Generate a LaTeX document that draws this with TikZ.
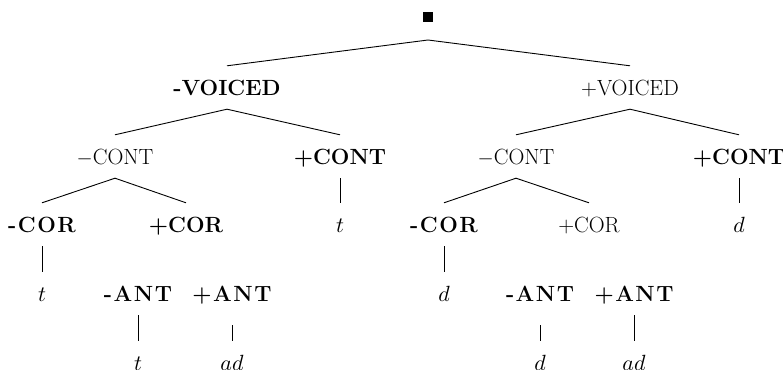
\documentclass[tikz,border=0pt]{standalone}
\usepackage{graphicx}
\newcommand{\lsp}{\kern1.5pt}
\newcommand{\lf}[1]{\scalebox{2.2}{$#1$}}
\begin{document}
\begin{tikzpicture}[x=1pt,y=-1pt,
  lab/.style={anchor=base,font=\fontsize{22}{26}\selectfont,text height=15pt,text depth=0pt,inner xsep=0pt,inner ysep=14pt},
  blab/.style={lab,font=\fontsize{22}{26}\selectfont\bfseries},
  leaf/.style={lab,font=\normalsize},
  edge/.style={line width=0.9pt},
  faint/.style={line width=0.5pt,shorten <=10pt}]
\useasboundingbox (0,0) rectangle (783,369);
\clip (0,0) rectangle (783,369);
\node[fill=black,minimum size=10pt,inner sep=0pt,outer sep=0pt] (rootbox) at (428,17) {};
\coordinate (root) at (428,40);
% level 1
\node[blab] (vm) at (227,95) {-VOICED};
\node[lab]  (vp) at (630,95) {+VOICED};
% level 2
\node[lab]  (c1) at (115,164) {$-$CONT};
\node[blab] (c2) at (340,164) {+CONT};
\node[lab]  (c3) at (516,164) {$-$CONT};
\node[blab] (c4) at (739,164) {+CONT};
% level 3
\node[blab] (r1) at (42,232) {-\lsp C\lsp O\lsp R};
\node[blab] (r2) at (186,232) {+COR};
\node[leaf] (l1) at (340,232) {\lf{t}};
\node[blab] (r3) at (444,232) {-\lsp C\lsp O\lsp R};
\node[lab]  (r4) at (589,232) {+COR};
\node[leaf] (l2) at (739,232) {\lf{d}};
% level 4
\node[leaf] (l3) at (42,301) {\lf{t}};
\node[blab] (a1) at (138,301) {-\lsp A\lsp N\lsp T};
\node[blab] (a2) at (232,301) {+\lsp A\lsp N\lsp T};
\node[leaf] (l4) at (444,301) {\lf{d}};
\node[blab] (a3) at (540,301) {-\lsp A\lsp N\lsp T};
\node[blab] (a4) at (634,301) {+\lsp A\lsp N\lsp T};
% level 5
\node[leaf] (l5) at (138,370) {\lf{t}};
\node[leaf] (l6) at (232,370) {\lf{ad}};
\node[leaf] (l7) at (540,370) {\lf{d}};
\node[leaf] (l8) at (634,370) {\lf{ad}};
% edges
\draw[edge] (vm.north) -- (root) -- (vp.north);
\draw[edge] (c1.north) -- (vm.south) -- (c2.north);
\draw[edge] (c3.north) -- (vp.south) -- (c4.north);
\draw[edge] (r1.north) -- (c1.south) -- (r2.north);
\draw[edge] (r3.north) -- (c3.south) -- (r4.north);
\draw[edge] (c2.south) -- (l1.north);
\draw[edge] (c4.south) -- (l2.north);
\draw[edge] (r1.south) -- (l3.north);
\draw[edge] (r3.south) -- (l4.north);
\draw[edge] (a1.south) -- (l5.north);
\draw[faint] (a2.south) -- (l6.north);
\draw[faint] (a3.south) -- (l7.north);
\draw[edge] (a4.south) -- (l8.north);
\end{tikzpicture}
\end{document}
